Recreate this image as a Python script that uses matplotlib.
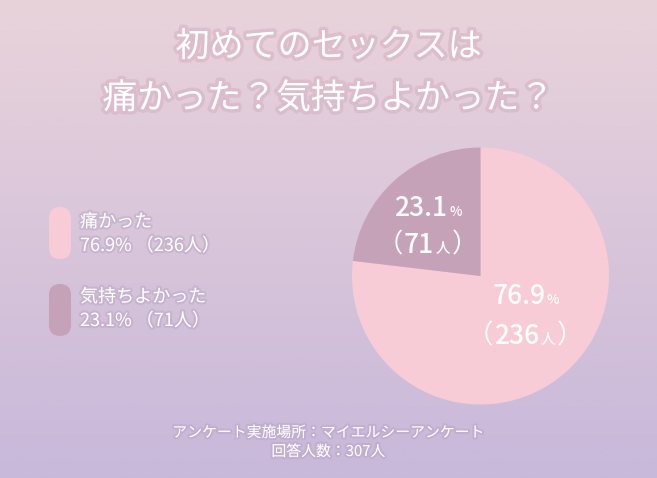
import matplotlib
matplotlib.use('Agg')
import matplotlib.pyplot as plt
import matplotlib.patheffects as pe
from matplotlib.patches import FancyBboxPatch
from matplotlib.colors import LinearSegmentedColormap
from matplotlib.offsetbox import TextArea, HPacker, AnnotationBbox
import numpy as np

plt.rcParams['font.family'] = ['Noto Sans CJK JP', 'DejaVu Sans']

title = ['初めてのセックスは', '痛かった？気持ちよかった？']
labels = ['痛かった', '気持ちよかった']
counts = [236, 71]
percents = [76.9, 23.1]
colors = ['#f8ccd6', '#c6a2b9']
footer = ['アンケート実施場所：マイエルシーアンケート', '回答人数：307人']

W, H = 657, 478
fig = plt.figure(figsize=(W / 100, H / 100), dpi=100)

# background: full-figure axes in pixel coordinates
bg = fig.add_axes([0, 0, 1, 1])
bg.set_xlim(0, W)
bg.set_ylim(H, 0)
bg.axis('off')
grad = LinearSegmentedColormap.from_list('bg', ['#e9d3da', '#c8b8da'])
bg.imshow(np.linspace(0, 1, 256)[:, None], cmap=grad, aspect='auto',
          extent=[0, W, H, 0], zorder=0)

glow = [pe.withStroke(linewidth=5, foreground='#d7afc2', alpha=0.55)]
soft = [pe.withStroke(linewidth=3, foreground='#b9a3c4', alpha=0.45)]

bg.text(W / 2, 47, title[0], color='white', fontsize=24.5, ha='center',
        va='center', path_effects=glow)
bg.text(W / 2, 99, title[1], color='white', fontsize=25,
        ha='center', va='center', path_effects=glow)

# legend pills
pill_y = [207, 284]
text_y = [(222, 246), (297, 321)]
for i in range(2):
    bg.add_patch(FancyBboxPatch((49 + 11, pill_y[i] + 11), 0, 52 - 22,
                                boxstyle='round,pad=11', fc=colors[i],
                                ec='none', zorder=2))
    bg.text(80, text_y[i][0], labels[i], color='white',
            fontsize=13, ha='left', va='center', path_effects=soft)
    bg.text(80, text_y[i][1],
            '%.1f%% （%d人）' % (percents[i], counts[i]), color='white',
            fontsize=13, ha='left', va='center', path_effects=soft)

# pie
cx, cy, r = 480.5, 276, 128.5
ax = fig.add_axes([(cx - r) / W, (H - cy - r) / H, 2 * r / W, 2 * r / H])
ax.pie(counts, colors=colors, startangle=90, counterclock=False,
       radius=1, wedgeprops=dict(linewidth=0))
ax.set_xlim(-1, 1)
ax.set_ylim(-1, 1)
ax.axis('off')

# overlay for the pie labels, drawn on top
top = fig.add_axes([0, 0, 1, 1])
top.set_xlim(0, W)
top.set_ylim(H, 0)
top.axis('off')
top.patch.set_alpha(0)


def label(x, y, big, small, size=19):
    box = HPacker(children=[
        TextArea(big, textprops=dict(color='white', fontsize=size,
                                     fontweight='medium')),
        TextArea(small, textprops=dict(color='white', fontsize=size * 0.5,
                                       fontweight='medium'))],
        align='baseline', pad=0, sep=1)
    top.add_artist(AnnotationBbox(box, (x, y), xycoords='data',
                                  frameon=False))


def label_n(x, y, n, size=19):
    box = HPacker(children=[
        TextArea('（', textprops=dict(color='white', fontsize=size)),
        TextArea('%d' % n, textprops=dict(color='white', fontsize=size,
                                          fontweight='medium')),
        TextArea('人', textprops=dict(color='white', fontsize=size * 0.55,
                                      fontweight='medium')),
        TextArea('）', textprops=dict(color='white', fontsize=size))],
        align='baseline', pad=0, sep=1)
    top.add_artist(AnnotationBbox(box, (x, y), xycoords='data',
                                  frameon=False))


label(428, 208, '%.1f' % percents[1], '%')
label_n(427, 245, counts[1])
label(526, 297, '%.1f' % percents[0], '%')
label_n(525, 336, counts[0])

top.text(W / 2, 433, footer[0], color='white', fontsize=10.7, ha='center',
         va='center', path_effects=soft)
top.text(W / 2, 452, footer[1], color='white', fontsize=10.7, ha='center',
         va='center', path_effects=soft)

fig.savefig('out.png', dpi=100)
